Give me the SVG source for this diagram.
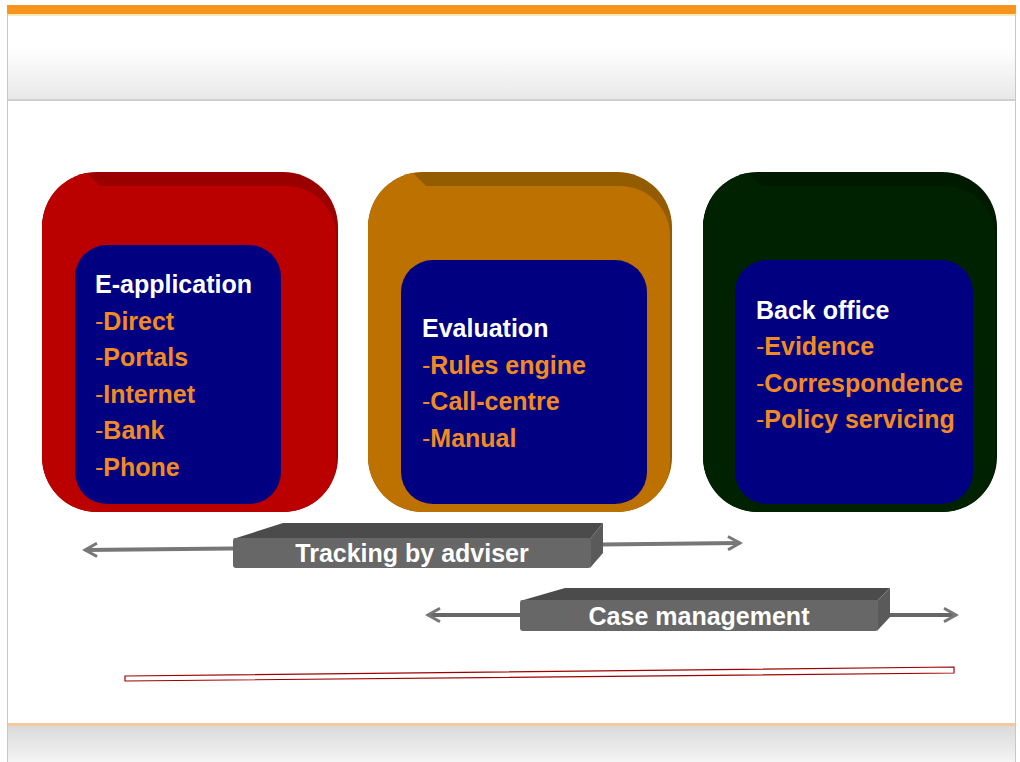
<svg xmlns="http://www.w3.org/2000/svg" width="1020" height="762" viewBox="0 0 1020 762">
<defs>
<linearGradient id="hdr" x1="0" y1="0" x2="0" y2="1">
<stop offset="0" stop-color="#FFFFFF"/>
<stop offset="0.4" stop-color="#FFFFFF"/>
<stop offset="1" stop-color="#E8E8E8"/>
</linearGradient>
<linearGradient id="ftr" x1="0" y1="0" x2="0" y2="1">
<stop offset="0" stop-color="#DADADA"/>
<stop offset="1" stop-color="#F4F4F4"/>
</linearGradient>
<clipPath id="c1"><rect x="42" y="172" width="296" height="340" rx="55"/></clipPath>
<clipPath id="c2"><rect x="368" y="172" width="304" height="340" rx="55"/></clipPath>
<clipPath id="c3"><rect x="703" y="172" width="294" height="340" rx="55"/></clipPath>
<marker id="ah" viewBox="0 0 12 12" refX="10" refY="6" markerWidth="4" markerHeight="4" orient="auto-start-reverse" markerUnits="strokeWidth">
<path d="M1,1 L10,6 L1,11" fill="none" stroke="#777777" stroke-width="2.2"/>
</marker>
</defs>
<style>
.t{font-family:"Liberation Sans",Arial,sans-serif;font-weight:bold;font-size:25px}
.h{fill:#FFFFFF}
.o{fill:#F28A24}
.d{font-weight:normal}
.inner{fill:#000080}
.bar{font-family:"Liberation Sans",Arial,sans-serif;font-weight:bold;font-size:25px;fill:#FFFFFF;text-anchor:middle}
</style>
<rect x="0" y="0" width="1020" height="762" fill="#FFFFFF"/>
<!-- header / frame -->
<rect x="7" y="13" width="1009" height="87" fill="url(#hdr)"/>
<rect x="7" y="5" width="1009" height="9" fill="#F7941D"/>
<rect x="7" y="14" width="1009" height="2" fill="#FCE9B8"/>
<rect x="7" y="99" width="1009" height="2" fill="#CFCFCF"/>
<rect x="7" y="725" width="1009" height="37" fill="url(#ftr)"/>
<rect x="7" y="723" width="1009" height="3" fill="#F6C8A2"/>
<line x1="7.5" y1="13" x2="7.5" y2="762" stroke="#C8C8C8" stroke-width="1"/>
<line x1="1015.5" y1="13" x2="1015.5" y2="762" stroke="#C8C8C8" stroke-width="1"/>

<g id="e-application">
<g clip-path="url(#c1)">
<rect x="42" y="172" width="296" height="340" fill="#9A0000"/>
<rect x="40" y="186" width="296" height="326" rx="50" fill="#BB0000"/>
<polygon points="40,172 86,172 100,186 40,242" fill="#BB0000"/>
</g>
<rect x="75" y="245" width="206" height="259" rx="32" class="inner"/>
<text class="t h" x="95" y="293">E-application</text>
<text class="t o" x="95" y="330"><tspan class="d">-</tspan>Direct</text>
<text class="t o" x="95" y="366"><tspan class="d">-</tspan>Portals</text>
<text class="t o" x="95" y="403"><tspan class="d">-</tspan>Internet</text>
<text class="t o" x="95" y="439"><tspan class="d">-</tspan>Bank</text>
<text class="t o" x="95" y="476"><tspan class="d">-</tspan>Phone</text>
</g>

<g id="evaluation">
<g clip-path="url(#c2)">
<rect x="368" y="172" width="304" height="340" fill="#935C00"/>
<rect x="366" y="186" width="304" height="326" rx="50" fill="#BD7100"/>
<polygon points="366,172 412,172 426,186 366,242" fill="#BD7100"/>
</g>
<rect x="401" y="260" width="246" height="244" rx="32" class="inner"/>
<text class="t h" x="422" y="337">Evaluation</text>
<text class="t o" x="422" y="374"><tspan class="d">-</tspan>Rules engine</text>
<text class="t o" x="422" y="410"><tspan class="d">-</tspan>Call-centre</text>
<text class="t o" x="422" y="447"><tspan class="d">-</tspan>Manual</text>
</g>

<g id="back-office">
<g clip-path="url(#c3)">
<rect x="703" y="172" width="294" height="340" fill="#001A00"/>
<rect x="701" y="186" width="294" height="326" rx="50" fill="#002200"/>
<polygon points="701,172 747,172 761,186 701,242" fill="#002200"/>
</g>
<rect x="735" y="260" width="238" height="244" rx="32" class="inner"/>
<text class="t h" x="756" y="319">Back office</text>
<text class="t o" x="756" y="355"><tspan class="d">-</tspan>Evidence</text>
<text class="t o" x="756" y="392"><tspan class="d">-</tspan>Correspondence</text>
<text class="t o" x="756" y="428"><tspan class="d">-</tspan>Policy servicing</text>
</g>

<g id="connectors">
<line x1="85" y1="550" x2="740" y2="543" stroke="#777777" stroke-width="4" marker-start="url(#ah)" marker-end="url(#ah)"/>
<line x1="428" y1="615" x2="956" y2="615" stroke="#666666" stroke-width="4" marker-start="url(#ah)" marker-end="url(#ah)"/>
</g>

<g id="tracking">
<polygon points="233,539 283,523 603,523 590,539" fill="#4B4B4B"/>
<polygon points="590,539 603,523 603,553 590,568" fill="#5A5A5A"/>
<rect x="233" y="538" width="358" height="30" rx="3" fill="#676767"/>
<text class="bar" x="412" y="562">Tracking by adviser</text>
</g>

<g id="case-management">
<polygon points="520,601 565,588 890,588 877,601" fill="#4B4B4B"/>
<polygon points="877,601 890,588 890,617 877,631" fill="#5A5A5A"/>
<rect x="520" y="600" width="358" height="31" rx="3" fill="#676767"/>
<text class="bar" x="699" y="625">Case management</text>
</g>

<g id="red-bar">
<polygon points="125,676 954,667 954,673 125,681" fill="#FFFFFF" stroke="#A00000" stroke-width="1.2"/>
</g>
</svg>
